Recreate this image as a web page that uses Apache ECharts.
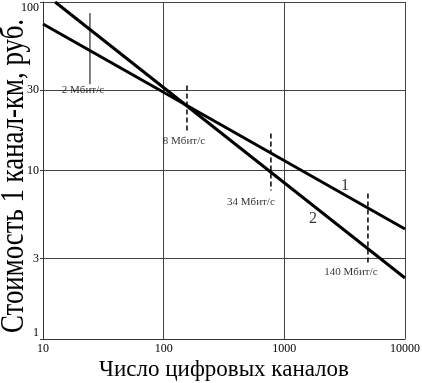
<!DOCTYPE html>
<html>
<head>
<meta charset="utf-8">
<script src="https://cdn.jsdelivr.net/npm/echarts@6/dist/echarts.min.js"></script>
<style>
html,body{margin:0;padding:0;background:#fff;}
#chart{width:422px;height:383px;}
</style>
</head>
<body>
<div id="chart"></div>
<script>
// ---- data ----
const xTicks = [10, 100, 1000, 10000];
const yTicks = [1, 3, 10, 30, 100];
const line1X = [10, 10000];
const line1Y = [74, 4.5];
const line2X = [12.6, 10000];
const line2Y = [100, 2.3];
const markerNames = ['2 Мбит/с', '8 Мбит/с', '34 Мбит/с', '140 Мбит/с'];
const markerX = [24.5, 156, 774, 4930];
const markerTop = [86, 32, 16.6, 7.3];
const markerBottom = [32.5, 16.8, 7.6, 2.83];
const curveNames = ['1', '2'];
const curveLabelX = [3177, 1726];
const curveLabelY = [8.15, 5.18];
const xTitle = 'Число цифровых каналов';
const yTitle = 'Стоимость 1 канал-км, руб.';

// ---- styling ----
const FONT = "'Liberation Serif', 'DejaVu Serif', serif";
const markerSolid = [true, false, false, false];
const markerLabelOffset = [[-7, 0], [-3, 3], [-20, 6], [-17, 4]];

const L = Math.log10;
const pts = (xs, ys) => xs.map((x, i) => [L(x), L(ys[i])]);

const series = [
  {
    type: 'line', data: pts(line1X, line1Y), symbol: 'none', silent: true,
    lineStyle: { color: '#000', width: 3 }, z: 5
  },
  {
    type: 'line', data: pts(line2X, line2Y), symbol: 'none', silent: true,
    lineStyle: { color: '#000', width: 3 }, z: 5
  }
];
markerX.forEach((x, i) => {
  series.push({
    type: 'line', symbol: 'none', silent: true,
    data: [[L(x), L(markerTop[i])], [L(x), L(markerBottom[i])]],
    lineStyle: { color: '#000', width: markerSolid[i] ? 1 : 1.5, type: markerSolid[i] ? 'solid' : [5, 3] },
    z: 4
  });
});
series.push({
  type: 'scatter', silent: true, symbolSize: 0,
  data: markerX.map((x, i) => ({
    value: [L(x), L(markerBottom[i])],
    label: {
      show: true, formatter: markerNames[i], position: 'bottom', distance: 0,
      offset: markerLabelOffset[i], fontFamily: FONT, fontSize: 11, color: '#000'
    }
  })),
  z: 6
});
series.push({
  type: 'scatter', silent: true, symbolSize: 0,
  data: curveNames.map((n, i) => ({
    value: [L(curveLabelX[i]), L(curveLabelY[i])],
    label: { show: true, formatter: n, position: 'inside', fontFamily: FONT, fontSize: 16, color: '#000' }
  })),
  z: 6
});

const chart = echarts.init(document.getElementById('chart'), null, { renderer: 'canvas' });
chart.setOption({
  backgroundColor: '#fff',
  animation: false,
  grid: { left: 43, right: 17, top: 2, bottom: 44, containLabel: false, outerBoundsMode: 'none' },
  graphic: [{
    type: 'text', x: 14, y: 176, rotation: Math.PI / 2, scaleX: 0.79, scaleY: 1,
    style: { text: yTitle, font: '34px ' + FONT, fill: '#000', align: 'center', verticalAlign: 'middle' },
    silent: true
  }],
  xAxis: {
    type: 'value', min: L(xTicks[0]), max: L(xTicks[xTicks.length - 1]), interval: 1,
    name: xTitle, nameLocation: 'middle', nameGap: 19, nameMoveOverlap: false,
    nameTextStyle: { fontFamily: FONT, fontSize: 23, color: '#000' },
    axisLine: { show: true, lineStyle: { color: '#333', width: 1 } },
    axisTick: { show: false },
    axisLabel: {
      fontFamily: FONT, fontSize: 12, color: '#000', margin: 4,
      formatter: v => String(Math.round(Math.pow(10, v)))
    },
    splitLine: { show: true, lineStyle: { color: '#444', width: 1 } }
  },
  yAxis: {
    type: 'value', min: L(yTicks[0]), max: L(yTicks[yTicks.length - 1]),
    axisLine: { show: true, lineStyle: { color: '#333', width: 1 } },
    axisTick: { show: true, length: 3, inside: false, customValues: yTicks.map(L), lineStyle: { color: '#444', width: 1 } },
    axisLabel: {
      fontFamily: FONT, fontSize: 12, color: '#000', margin: 4,
      customValues: yTicks.map(L),
      verticalAlignMinLabel: 'bottom',
      verticalAlignMaxLabel: 'top',
      formatter: v => String(Math.round(Math.pow(10, v)))
    },
    splitLine: { show: true, lineStyle: { color: '#444', width: 1 } }
  },
  series: series
});
</script>
</body>
</html>
